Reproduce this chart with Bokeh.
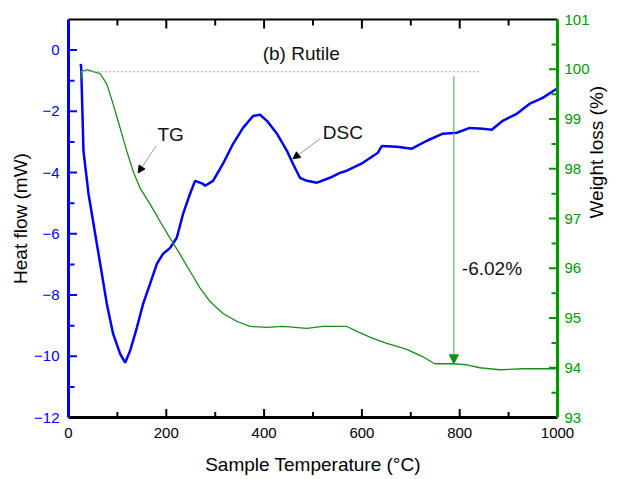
import math
from bokeh.plotting import figure
from bokeh.models import (Range1d, LinearAxis, SingleIntervalTicker, FixedTicker, Arrow,
                          NormalHead)
from bokeh.core.properties import value
from bokeh.embed import file_html
from bokeh.resources import INLINE

# DSC curve (heat flow, mW) vs sample temperature (°C)
dsc_temp = [25, 26, 30.6, 40.9, 51.1, 64.8, 78.4, 91.3, 105.6, 115.8, 126, 139.7, 152.6,
            166.9, 180.6, 193.5, 207.8, 221.4, 234.3, 248.6, 258.8, 275.2, 279.3, 295.6,
            316, 336.5, 356.9, 377.3, 391.6, 405.9, 426.3, 446.7, 459, 473.3, 487.6, 508,
            534.6, 555, 569.3, 602, 632.7, 640.9, 671.5, 702.2, 732.8, 765.5, 794.1, 820.6,
            847.2, 865.6, 888, 916.7, 943.3, 969.8, 998.4]
dsc_heat = [-0.45, -0.58, -3.29, -4.69, -5.67, -6.98, -8.29, -9.27, -9.92, -10.21, -9.82,
            -9.07, -8.29, -7.63, -6.98, -6.65, -6.46, -6.13, -5.35, -4.69, -4.27, -4.37,
            -4.43, -4.27, -3.71, -3.06, -2.54, -2.15, -2.11, -2.31, -2.73, -3.29, -3.71,
            -4.17, -4.27, -4.33, -4.17, -4.01, -3.94, -3.68, -3.35, -3.13, -3.16, -3.22,
            -2.96, -2.73, -2.70, -2.54, -2.57, -2.60, -2.31, -2.08, -1.75, -1.56, -1.26]

# TG curve (weight, %) vs sample temperature (°C)
tg_temp = [26, 26.1, 37.6, 64.8, 78.4, 91.3, 105.6, 119.3, 132.2, 146.5, 166.9, 187.3,
           207.8, 228.2, 248.6, 269.1, 289.5, 316, 344.7, 371.2, 405.9, 438.6, 487.6,
           520.3, 569.3, 589.7, 622.4, 651, 691.9, 724.6, 749.1, 785.9, 814.5, 841.1,
           881.9, 928.9, 998.4]
tg_weight = [99.80, 99.95, 99.99, 99.91, 99.70, 99.30, 98.82, 98.35, 97.95, 97.61, 97.29,
             96.94, 96.60, 96.28, 95.94, 95.60, 95.33, 95.09, 94.93, 94.83, 94.81, 94.83,
             94.79, 94.83, 94.83, 94.73, 94.59, 94.49, 94.37, 94.22, 94.08, 94.08, 94.06,
             94.00, 93.96, 93.98, 93.98]

# axis ranges and inward tick marks (drawn inside the frame)
x_lo, x_hi = 0, 1000
hf_lo, hf_hi = -12, 1
wt_lo, wt_hi = 93, 101
x_major = [200, 400, 600, 800]
x_minor = [100, 300, 500, 700, 900]
hf_major = [-10, -8, -6, -4, -2, 0]
hf_minor = [-11, -9, -7, -5, -3, -1]
wt_major = [94, 95, 96, 97, 98, 99, 100]
wt_minor = [93.5, 94.5, 95.5, 96.5, 97.5, 98.5, 99.5, 100.5]

# annotation values
ref_level = 99.95
ref_from, ref_to = 25, 840
loss_temp, loss_top, loss_bottom = 788, 99.86, 94.08
loss_label = "-6.02%"
loss_label_pos = (866, 96.0)
title_text, title_pos = "(b) Rutile", (476, -0.12)
tg_label, tg_label_pos = "TG", (209, -2.77)
tg_arrow = (179.2, -3.13, 142.4, -4.01)
dsc_label, dsc_label_pos = "DSC", (561, -2.69)
dsc_arrow = (514.2, -2.90, 459.0, -3.55)

FONT = "Liberation Sans"
BLUE = "#0000ff"
GREEN = "#009900"
TG_LINE = "#1a8c1a"

p = figure(width=621, height=479, output_backend="svg", toolbar_location=None,
           x_range=Range1d(x_lo, x_hi), y_range=Range1d(hf_lo, hf_hi),
           min_border_left=68, min_border_right=64, min_border_top=19, min_border_bottom=62)
p.extra_y_ranges = {"tg": Range1d(wt_lo, wt_hi)}
p.outline_line_color = None
p.xgrid.visible = False
p.ygrid.visible = False
p.background_fill_color = "white"
p.border_fill_color = "white"

xt = SingleIntervalTicker(interval=200, num_minor_ticks=2)
lt = SingleIntervalTicker(interval=2, num_minor_ticks=2)
rt = SingleIntervalTicker(interval=1, num_minor_ticks=2)

def style(ax, color, width):
    ax.axis_line_color = color
    ax.axis_line_width = width
    ax.major_tick_line_color = color
    ax.minor_tick_line_color = color
    ax.major_tick_in = 0
    ax.major_tick_out = 0
    ax.minor_tick_in = 0
    ax.minor_tick_out = 0
    ax.major_label_text_font = FONT
    ax.major_label_text_font_size = "15px"
    ax.axis_label_text_font = FONT
    ax.axis_label_text_font_size = "19px"
    ax.axis_label_text_font_style = "normal"
    ax.axis_label_text_color = "black"

xa = p.xaxis[0]
xa.ticker = xt
style(xa, "black", 3)
xa.major_label_text_color = "black"
xa.major_label_standoff = 10
xa.axis_label = "Sample Temperature (°C)"
xa.axis_label_standoff = 13

ya = p.yaxis[0]
ya.ticker = lt
style(ya, BLUE, 3)
ya.major_label_text_color = BLUE
ya.major_label_standoff = 9
ya.axis_label = "Heat flow (mW)"
ya.axis_label_standoff = 0

ra = LinearAxis(y_range_name="tg", ticker=rt)
style(ra, GREEN, 3)
ra.major_label_text_color = GREEN
ra.major_label_standoff = 7
ra.axis_label = "Weight loss (%)"
ra.axis_label_standoff = 4
ra.axis_label_orientation = math.pi / 2
p.add_layout(ra, "right")

ta = LinearAxis(ticker=FixedTicker(ticks=[]))
style(ta, "black", 2)
ta.major_label_standoff = 0
p.add_layout(ta, "above")

# inward tick marks: dashes centred on the frame edge, the outer half is clipped
def ticks(xs, ys, color, size, vertical, rng="default"):
    p.scatter(xs, ys, marker="dash", size=size, angle=math.pi / 2 if vertical else 0,
              line_color=color, line_width=2, y_range_name=rng)

ticks(x_major, [hf_lo] * len(x_major), "black", 17, True)
ticks(x_minor, [hf_lo] * len(x_minor), "black", 11, True)
ticks(x_major, [hf_hi] * len(x_major), "black", 18, True)
ticks(x_minor, [hf_hi] * len(x_minor), "black", 12, True)
ticks([x_lo] * len(hf_major), hf_major, BLUE, 17, False)
ticks([x_lo] * len(hf_minor), hf_minor, BLUE, 12, False)
ticks([x_hi] * len(wt_major), wt_major, GREEN, 17, False, "tg")
ticks([x_hi] * len(wt_minor), wt_minor, GREEN, 12, False, "tg")

# curves
p.line(dsc_temp, dsc_heat, line_color=BLUE, line_width=2.5)
p.line(tg_temp, tg_weight, line_color=TG_LINE, line_width=1.3, y_range_name="tg")

# reference dotted line
p.line([ref_from, ref_to], [ref_level, ref_level], y_range_name="tg",
       line_color="#aaaaaa", line_width=1, line_dash="2 2")

# weight-loss arrow
p.add_layout(Arrow(end=NormalHead(size=9, fill_color=TG_LINE, line_color=TG_LINE),
                   x_start=loss_temp, y_start=loss_top, x_end=loss_temp, y_end=loss_bottom,
                   line_color="#44aa44", line_width=1, y_range_name="tg"))

# label arrows
for a in (tg_arrow, dsc_arrow):
    p.add_layout(Arrow(end=NormalHead(size=7, fill_color="black", line_color="black"),
                       x_start=a[0], y_start=a[1], x_end=a[2], y_end=a[3],
                       line_color="#999999", line_width=1))

p.text(x=[title_pos[0], tg_label_pos[0], dsc_label_pos[0]],
       y=[title_pos[1], tg_label_pos[1], dsc_label_pos[1]],
       text=[title_text, tg_label, dsc_label],
       text_font=value(FONT), text_font_size="19px", text_color="#111111",
       text_align="center", text_baseline="middle")
p.text(x=[loss_label_pos[0]], y=[loss_label_pos[1]], text=[loss_label],
       y_range_name="tg", text_font=value(FONT), text_font_size="19px",
       text_color="#111111", text_align="center", text_baseline="middle")

open("out.html", "w").write(file_html(p, INLINE))
